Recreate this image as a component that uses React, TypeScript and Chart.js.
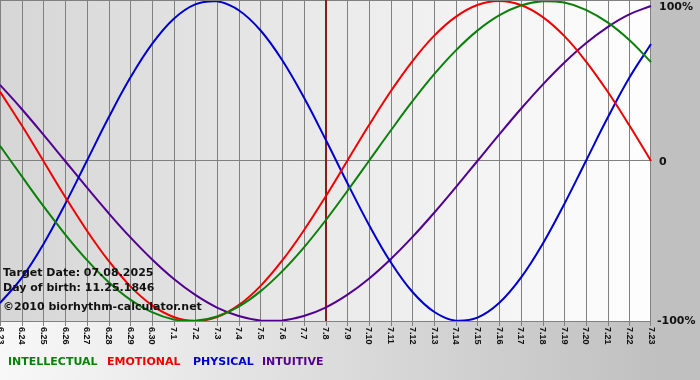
import React, { useEffect, useRef } from "react";
import { Chart, registerables } from "chart.js";

Chart.register(...registerables);

const dayLabels = [
  "6.23", "6.24", "6.25", "6.26", "6.27", "6.28", "6.29", "6.30",
  "7.1", "7.2", "7.3", "7.4", "7.5", "7.6", "7.7", "7.8", "7.9", "7.10",
  "7.11", "7.12", "7.13", "7.14", "7.15", "7.16", "7.17", "7.18", "7.19",
  "7.20", "7.21", "7.22", "7.23",
];

const intellectual = [
  9.5, -9.5, -28.2, -45.8, -61.8, -75.6, -86.6, -94.5, -99.0, -99.9, -97.2,
  -91.0, -81.5, -69.0, -54.1, -37.2, -18.9, 0, 18.9, 37.2, 54.1, 69.0, 81.5,
  91.0, 97.2, 99.9, 99.0, 94.5, 86.6, 75.6, 61.8,
];

const emotional = [
  43.4, 22.3, 0, -22.3, -43.4, -62.3, -78.2, -90.1, -97.5, -100, -97.5,
  -90.1, -78.2, -62.3, -43.4, -22.3, 0, 22.3, 43.4, 62.3, 78.2, 90.1, 97.5,
  100, 97.5, 90.1, 78.2, 62.3, 43.4, 22.3, 0,
];

const physical = [
  -88.8, -73.1, -52.0, -27.0, 0, 27.0, 52.0, 73.1, 88.8, 97.9, 99.8, 94.2,
  81.7, 63.1, 39.8, 13.6, -13.6, -39.8, -63.1, -81.7, -94.2, -99.8, -97.9,
  -88.8, -73.1, -52.0, -27.0, 0, 27.0, 52.0, 73.1,
];

const intuitive = [
  47.6, 32.5, 16.5, 0, -16.5, -32.5, -47.6, -61.4, -73.6, -83.7, -91.6,
  -96.9, -99.7, -99.7, -96.9, -91.6, -83.7, -73.6, -61.4, -47.6, -32.5,
  -16.5, 0, 16.5, 32.5, 47.6, 61.4, 73.6, 83.7, 91.6, 96.9,
];

const yTicks = [100, 0, -100];
const yTickLabels = ["100%", "0", "-100%"];
const targetLabel = "7.8";
const infoLines = [
  "Target Date: 07.08.2025",
  "Day of birth: 11.25.1846",
  "\u00A92010 biorhythm-calculator.net",
];
const legendNames = ["INTELLECTUAL", "EMOTIONAL", "PHYSICAL", "INTUITIVE"];
const legendX = [8, 107, 193, 262];
const seriesColors = ["#0a800a", "#ee0000", "#0000cc", "#520090"];

const decorPlugin = {
  id: "biodecor",
  beforeDraw(chart: any) {
    const ctx = chart.ctx;
    const { width, height } = chart;
    const area = chart.chartArea;
    ctx.save();
    const bg = ctx.createLinearGradient(0, 0, 660, 0);
    bg.addColorStop(0, "#f8f8f8");
    bg.addColorStop(1, "#c0c0c0");
    ctx.fillStyle = bg;
    ctx.fillRect(0, 0, width, height);
    const pg = ctx.createLinearGradient(area.left, 0, area.right, 0);
    pg.addColorStop(0, "#d6d6d6");
    pg.addColorStop(1, "#fefefe");
    ctx.fillStyle = pg;
    ctx.fillRect(area.left, 0, area.right - area.left, area.bottom);
    ctx.restore();
  },
  beforeDatasetsDraw(chart: any) {
    const ctx = chart.ctx;
    const area = chart.chartArea;
    const xs = chart.scales.x;
    const ys = chart.scales.y;
    ctx.save();
    ctx.strokeStyle = "#808080";
    ctx.lineWidth = 1;
    dayLabels.forEach((_, i) => {
      const x = Math.min(Math.round(xs.getPixelForValue(i)), area.right - 1) + 0.5;
      ctx.beginPath();
      ctx.moveTo(x, 0);
      ctx.lineTo(x, area.bottom + 5);
      ctx.stroke();
    });
    ctx.beginPath();
    ctx.moveTo(0, 0.5);
    ctx.lineTo(area.right, 0.5);
    ctx.stroke();
    const y0 = Math.round(ys.getPixelForValue(0)) - 0.5;
    ctx.beginPath();
    ctx.moveTo(0, y0);
    ctx.lineTo(area.right, y0);
    ctx.stroke();
    const yb = Math.round(area.bottom) + 0.5;
    ctx.beginPath();
    ctx.moveTo(0, yb);
    ctx.lineTo(area.right, yb);
    ctx.stroke();
    const ti = dayLabels.indexOf(targetLabel);
    const tx = Math.round(xs.getPixelForValue(ti));
    ctx.strokeStyle = "#8a1c1c";
    ctx.lineWidth = 2;
    ctx.beginPath();
    ctx.moveTo(tx, 0);
    ctx.lineTo(tx, area.bottom);
    ctx.stroke();
    ctx.restore();
  },
  afterDraw(chart: any) {
    const ctx = chart.ctx;
    const area = chart.chartArea;
    const xs = chart.scales.x;
    const ys = chart.scales.y;
    ctx.save();
    ctx.fillStyle = "#111";
    ctx.font = "bold 9px 'Liberation Sans', Arial, sans-serif";
    ctx.textAlign = "left";
    ctx.textBaseline = "middle";
    dayLabels.forEach((lab, i) => {
      const x = xs.getPixelForValue(i);
      ctx.save();
      ctx.translate(x, area.bottom + 6);
      ctx.rotate(Math.PI / 2);
      ctx.fillText(lab, 0, 0);
      ctx.restore();
    });
    ctx.font = "bold 11px 'DejaVu Sans', sans-serif";
    ctx.textBaseline = "middle";
    yTicks.forEach((v, i) => {
      let y = ys.getPixelForValue(v);
      if (v === 100) y += 6;
      if (v === 0) y += 1;
      const lab = yTickLabels[i];
      const xx = v < 0 ? area.right + 6 : area.right + 8;
      ctx.fillText(lab, xx, y);
    });
    ctx.fillStyle = "#111";
    ctx.textBaseline = "alphabetic";
    ctx.fillText(infoLines[0], 3, 276);
    ctx.fillText(infoLines[1], 3, 291);
    ctx.fillText(infoLines[2], 3, 310);
    ctx.textBaseline = "middle";
    ctx.font = "bold 11px 'DejaVu Sans', sans-serif";
    legendNames.forEach((n, i) => {
      ctx.fillStyle = seriesColors[i];
      ctx.fillText(n, legendX[i], 362);
    });
    ctx.restore();
  },
};

export default function App() {
  const ref = useRef<HTMLCanvasElement | null>(null);
  useEffect(() => {
    if (!ref.current) return;
    const series = [intellectual, emotional, physical, intuitive];
    const chart = new Chart(ref.current, {
      type: "line",
      data: {
        labels: dayLabels,
        datasets: series.map((d, i) => ({
          label: legendNames[i],
          data: d,
          borderColor: seriesColors[i],
          backgroundColor: seriesColors[i],
          borderWidth: 2,
          pointRadius: 0,
          tension: 0.4,
          fill: false,
        })),
      },
      options: {
        animation: false,
        responsive: false,
        maintainAspectRatio: false,
        layout: { padding: { left: 0, top: 1, right: 49, bottom: 59 } },
        plugins: { legend: { display: false }, tooltip: { enabled: false } },
        scales: {
          x: { type: "category", display: false, offset: false },
          y: { display: false, min: -100, max: 100 },
        },
      },
      plugins: [decorPlugin],
    });
    return () => chart.destroy();
  }, []);
  return (
    <div style={{ position: "absolute", left: 0, top: 0, width: 700, height: 380 }}>
      <canvas ref={ref} width={700} height={380} style={{ display: "block" }} />
    </div>
  );
}
